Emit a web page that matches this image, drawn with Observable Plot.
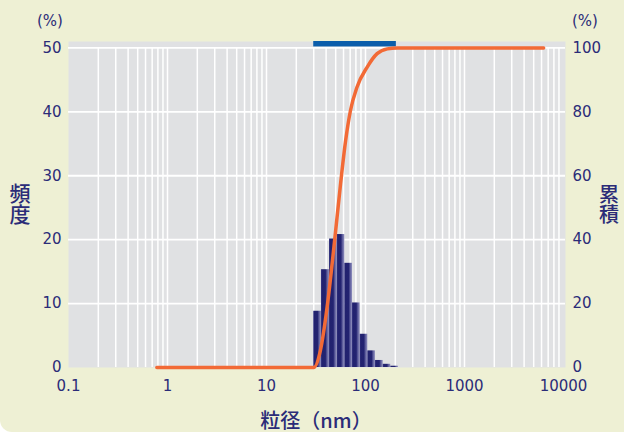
<!DOCTYPE html>
<html>
<head>
<meta charset="utf-8">
<script src="https://cdn.jsdelivr.net/npm/d3@7"></script>
<script src="https://cdn.jsdelivr.net/npm/@observablehq/plot@0.6"></script>
<style>
  html, body { margin: 0; padding: 0; background: #ffffff; }
  #chart { width: 624px; height: 432px; background: #eef0d4; border-bottom-left-radius: 12px; overflow: hidden; }
  #chart svg { display: block; background: transparent; }
</style>
</head>
<body>
<div id="chart"></div>
<script>
// ---- data ----
// histogram bin edges (nm) and frequency (%)
const binEdges = [30, 35.9, 43.3, 51.8, 61.8, 73.9, 88.4, 105.5, 126, 151, 180, 215];
const freq = [8.8, 15.3, 20.1, 20.8, 16.3, 10.1, 5.2, 2.6, 1.1, 0.5, 0.2];
// cumulative curve: size (nm) and cumulative (%)
const cumSize = [0.78, 30, 35, 41, 48, 56, 63, 70.5, 82, 104, 131, 166, 209, 6300];
const cumPct  = [0, 0, 5.3, 19, 37.7, 57.5, 71, 80.4, 87.7, 94, 98.2, 99.7, 100, 100];
// measurement range indicator (nm)
const rangeNm = [30, 205];
// ticks
const xTicks = [0.1, 1, 10, 100, 1000, 10000];
const yTicksLeft = [0, 10, 20, 30, 40, 50];
const yGrid = [10, 20, 30, 40, 50];

// build tables
const bars = freq.map((v, i) => ({x1: binEdges[i], x2: binEdges[i + 1], y: v}));
const cum = cumSize.map((s, i) => ({x: s, y: cumPct[i] / 2}));
const minorGrid = [];
for (let i = 0; i < xTicks.length - 1; i++) {
  for (let k = 1; k <= 9; k++) {
    if (i === 0 && k === 1) continue;
    minorGrid.push(xTicks[i] * k);
  }
}

const navy = "#2b2c78";

const defs = () => {
  const g = d3.create("svg:defs");
  const lg = g.append("linearGradient").attr("id", "barGrad").attr("x1", 0).attr("x2", 1).attr("y1", 0).attr("y2", 0);
  [[0, "#3d3d88"], [0.14, "#22226f"], [0.55, "#232371"], [0.78, "#6363a0"], [1, "#9191be"]]
    .forEach(([o, c]) => lg.append("stop").attr("offset", o).attr("stop-color", c));
  return g.node();
};

const chart = Plot.plot({
  width: 624,
  height: 432,
  marginLeft: 68,
  marginRight: 61,
  marginTop: 41,
  marginBottom: 65,
  style: {fontFamily: "'DejaVu Sans', sans-serif", fontSize: "15px", color: navy, background: "transparent"},
  x: {type: "log", domain: [0.1, 10000]},
  y: {domain: [0, 51]},
  marks: [
    defs,
    Plot.frame({fill: "#e0e1e3", stroke: "none", insetRight: -2}),
    Plot.ruleX(minorGrid, {y1: 0, y2: 50, stroke: "#ffffff", strokeWidth: 1.5}),
    Plot.ruleY(yGrid, {stroke: "#ffffff", strokeWidth: 1.8, insetRight: -2}),
    Plot.rect([{x1: rangeNm[0], x2: rangeNm[1]}], {x1: "x1", x2: "x2", y1: 50.15, y2: 51, fill: "#0b5eab"}),
    Plot.rectY(bars, {x1: "x1", x2: "x2", y: "y", fill: "url(#barGrad)", inset: 0}),
    Plot.line(cum, {x: "x", y: "y", stroke: "#f26a36", strokeWidth: 3.5, curve: "monotone-x", strokeLinecap: "round"}),
    Plot.axisY({ticks: yTicksLeft, anchor: "left", tickSize: 0, tickPadding: 7, label: null}),
    Plot.axisY({ticks: yTicksLeft, anchor: "right", tickSize: 0, tickPadding: 9, label: null, tickFormat: d => String(d * 2)}),
    Plot.axisX({ticks: xTicks, tickSize: 0, tickPadding: 13, label: null, tickFormat: d => String(d)})
  ]
});

document.getElementById("chart").appendChild(chart);

// titles
const svg = d3.select(chart);
const jp = "'Noto Sans CJK JP', sans-serif";
function addText(t, x, y, size, family, weight, vertical) {
  const el = svg.append("text").attr("x", x).attr("y", y).attr("text-anchor", "middle")
    .attr("fill", navy)
    .style("font-family", family).style("font-size", size + "px").style("font-weight", weight || "normal")
    .text(t);
  if (vertical) {
    el.style("writing-mode", "vertical-rl").style("text-orientation", "upright");
  } else {
    el.attr("dominant-baseline", "central");
  }
}
addText("(%)", 50, 21, 15, "'DejaVu Sans', sans-serif");
addText("(%)", 585, 21, 15, "'DejaVu Sans', sans-serif");
addText("頻度", 20, 204, 21, jp, 500, true);
addText("累積", 609, 204, 20, jp, 500, true);
addText("粒径（nm）", 316, 419, 20, jp, 500);
</script>
</body>
</html>
